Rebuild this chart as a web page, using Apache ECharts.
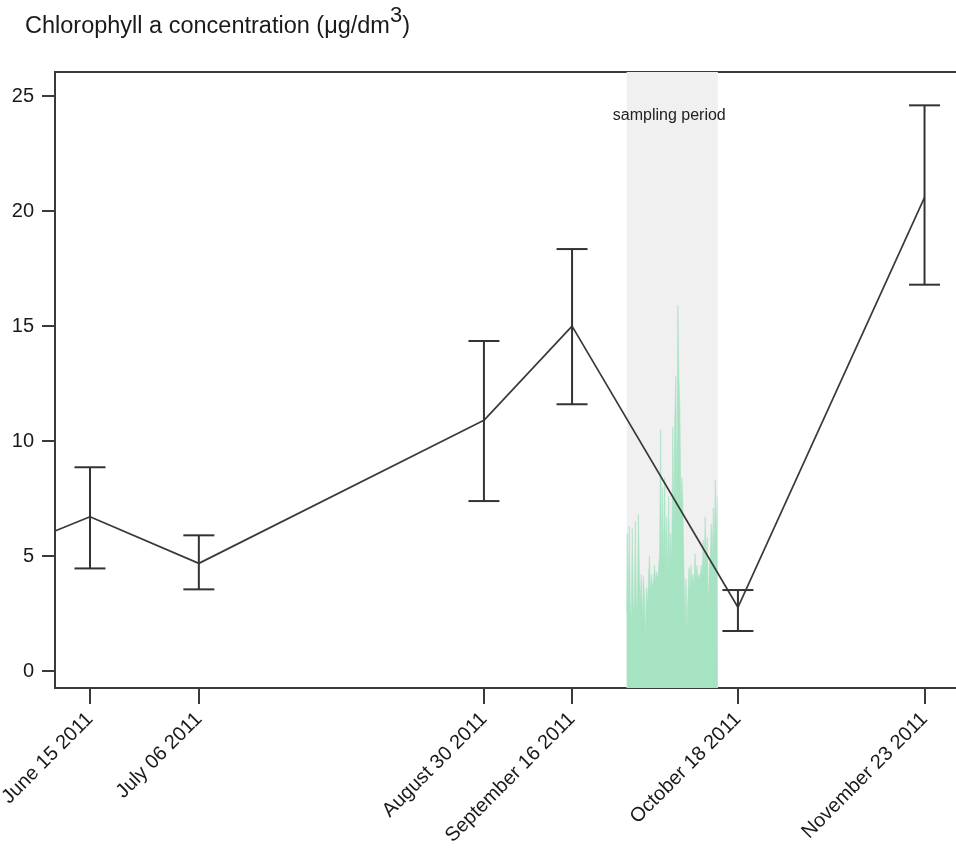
<!DOCTYPE html>
<html>
<head>
<meta charset="utf-8">
<script src="https://cdn.jsdelivr.net/npm/echarts@6/dist/echarts.min.js"></script>
<style>
html,body{margin:0;padding:0;background:#fff;overflow:hidden;}
#chart{width:990px;height:857px;}
</style>
</head>
<body>
<div id="chart"></div>
<script>
// ---- data ----
const sampleDates = ['2011-06-15', '2011-07-06', '2011-08-30', '2011-09-16', '2011-10-18', '2011-11-23'];
const tickLabels = ['June 15 2011', 'July 06 2011', 'August 30 2011', 'September 16 2011', 'October 18 2011', 'November 23 2011'];
const meanValues = [6.71, 4.68, 10.9, 15.0, 2.77, 20.6];
const lowerValues = [4.46, 3.55, 7.39, 11.6, 1.74, 16.8];
const upperValues = [8.86, 5.9, 14.35, 18.35, 3.52, 24.6];
// line enters the plot at the left edge of the axis
const lineStartDate = '2011-06-08T06:00:00';
const lineStartValue = 6.09;
const axisStartDate = '2011-06-08T06:00:00';
const axisEndDate = '2011-12-01T00:00:00';
const yTicks = [0, 5, 10, 15, 20, 25];
const yMin = -0.74, yMax = 26.05;
// high-frequency chlorophyll record during the sampling period
const samplingStart = '2011-09-26T13:00:00';
const samplingEnd = '2011-10-14T03:00:00';
const samplingLabel = 'sampling period';
const sensorValues = [
  2.5, 6.0, 2.9, 6.3, 3.0, 2.2, 6.2, 3.0, 2.6, 6.5,
  3.2, 2.7, 6.8, 4.4, 3.1, 4.2, 2.1, 4.1, 3.3, 1.4,
  3.6, 2.9, 4.0, 5.0, 3.4, 4.2, 3.6, 4.0, 4.6, 3.9,
  4.3, 4.0, 4.5, 5.2, 10.5, 4.6, 8.0, 4.5, 8.4, 4.4,
  6.7, 4.1, 7.6, 4.3, 6.0, 4.8, 10.6, 6.5, 11.0, 12.8,
  7.0, 15.9, 12.8, 11.5, 7.2, 8.4, 7.2, 4.5, 2.1, 4.0,
  1.8, 3.2, 4.5, 3.5, 4.6, 3.8, 4.2, 3.7, 5.1, 4.0,
  4.6, 3.9, 4.2, 4.0, 4.6, 4.2, 5.7, 4.4, 6.7, 4.6,
  5.8, 2.6, 4.5, 4.9, 6.4, 4.8, 7.1, 5.2, 8.3, 5.8,
  7.6
];
const titleMain = 'Chlorophyll a concentration (μg/dm';
const titleSup = '3';
const titleEnd = ')';

// ---- build ----
const ts = s => Date.parse(s.length === 10 ? s + 'T00:00:00Z' : s + 'Z');
const sampleTimes = sampleDates.map(ts);
const labelByTime = {};
sampleTimes.forEach((t, i) => { labelByTime[t] = tickLabels[i]; });

const lineData = [[ts(lineStartDate), lineStartValue]].concat(sampleTimes.map((t, i) => [t, meanValues[i]]));
const errData = sampleTimes.map((t, i) => [t, meanValues[i], lowerValues[i], upperValues[i]]);
const sStart = ts(samplingStart), sEnd = ts(samplingEnd);
const sensorData = sensorValues.map((v, i) => [sStart + (sEnd - sStart) * i / (sensorValues.length - 1), v]);

const AX = '#3a3a3a';
const FONT = 'Liberation Sans, Arial, Helvetica, sans-serif';

const chart = echarts.init(document.getElementById('chart'), null, {renderer: 'canvas'});
chart.setOption({
  animation: false,
  backgroundColor: '#ffffff',
  title: {
    left: 20, top: 7,
    text: '{a|' + titleMain + '}{s|' + titleSup + '}{a|' + titleEnd + '}',
    textStyle: {
      fontWeight: 'normal',
      rich: {
        a: {fontFamily: FONT, fontSize: 23.5, fontWeight: 'normal', color: '#1a1a1a', verticalAlign: 'bottom', lineHeight: 27},
        s: {fontFamily: FONT, fontSize: 22, fontWeight: 'normal', color: '#1a1a1a', verticalAlign: 'bottom', lineHeight: 27, padding: [0, 0, 12, 0]}
      }
    }
  },
  grid: {
    left: 55, top: 72, width: 911, height: 616,
    containLabel: false, outerBoundsMode: 'none',
    show: true, borderColor: AX, borderWidth: 2, backgroundColor: 'transparent'
  },
  xAxis: {
    type: 'value',
    min: ts(axisStartDate), max: ts(axisEndDate),
    splitLine: {show: false},
    axisLine: {show: true, onZero: false, lineStyle: {color: AX, width: 2}},
    axisTick: {show: true, customValues: sampleTimes, length: 16, lineStyle: {color: AX, width: 2}},
    axisLabel: {
      customValues: sampleTimes, rotate: 45, margin: 28,
      fontFamily: FONT, fontSize: 20, color: '#1a1a1a',
      formatter: v => labelByTime[v] || ''
    }
  },
  yAxis: {
    type: 'value', min: yMin, max: yMax,
    splitLine: {show: false},
    axisLine: {show: true, onZero: false, lineStyle: {color: AX, width: 2}},
    axisTick: {show: true, customValues: yTicks, length: 13, lineStyle: {color: AX, width: 2}},
    axisLabel: {customValues: yTicks, margin: 21, fontFamily: FONT, fontSize: 20, color: '#1a1a1a'}
  },
  series: [
    {
      type: 'line', z: 1, data: [], silent: true,
      markArea: {
        silent: true,
        itemStyle: {color: '#f0f0f0'},
        label: {
          show: true, position: 'insideTop', distance: 36, offset: [-3, 0],
          fontFamily: FONT, fontSize: 16, color: '#222'
        },
        data: [[{xAxis: sStart, yAxis: yMax, name: samplingLabel}, {xAxis: sEnd, yAxis: yMin}]]
      }
    },
    {
      type: 'line', z: 2, data: sensorData, step: 'middle', showSymbol: false,
      lineStyle: {width: 0.6, color: '#a6e3c3'},
      areaStyle: {color: '#a6e3c3', opacity: 1, origin: 'start'},
      silent: true
    },
    {
      type: 'line', z: 3, data: lineData, showSymbol: false,
      lineStyle: {color: '#3a3a3a', width: 1.7}, silent: true
    },
    {
      type: 'custom', z: 4, data: errData, silent: true,
      encode: {x: 0, y: [2, 3]},
      renderItem: function (params, api) {
        const lo = api.coord([api.value(0), api.value(2)]);
        const hi = api.coord([api.value(0), api.value(3)]);
        const w = 15.5;
        const st = {stroke: '#333', lineWidth: 2};
        return {
          type: 'group',
          children: [
            {type: 'line', shape: {x1: lo[0], y1: lo[1], x2: hi[0], y2: hi[1]}, style: st},
            {type: 'line', shape: {x1: hi[0] - w, y1: hi[1], x2: hi[0] + w, y2: hi[1]}, style: st},
            {type: 'line', shape: {x1: lo[0] - w, y1: lo[1], x2: lo[0] + w, y2: lo[1]}, style: st}
          ]
        };
      }
    }
  ]
});
</script>
</body>
</html>
